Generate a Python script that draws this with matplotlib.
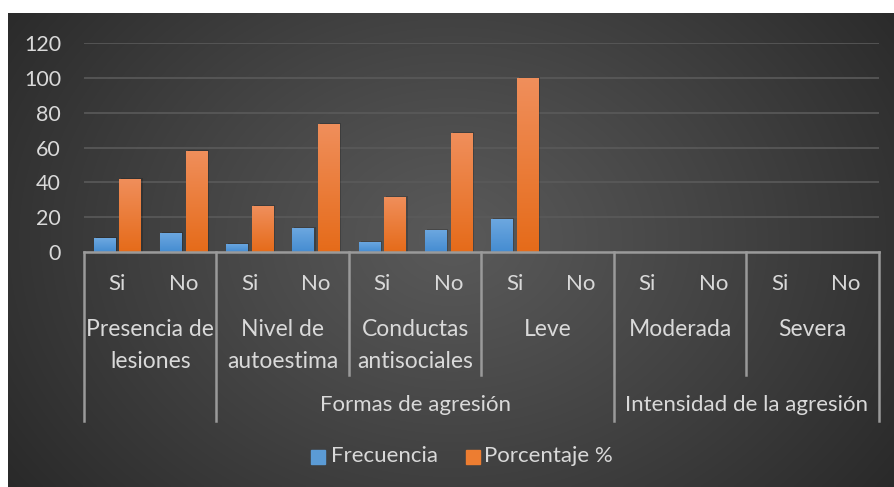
import numpy as np
import matplotlib.pyplot as plt
from matplotlib.patches import Rectangle

# data
slot_labels = ["Si", "No"] * 6
categories = ["Presencia de\nlesiones", "Nivel de\nautoestima", "Conductas\nantisociales",
              "Leve", "Moderada", "Severa"]
groups = ["", "Formas de agresión", "Intensidad de la agresión"]
group_spans = [(0, 1), (1, 4), (4, 6)]  # in categories
frecuencia = [8, 11, 5, 14, 6, 13, 19, 0, 0, 0, 0, 0]
porcentaje = [42.1, 57.9, 26.3, 73.7, 31.6, 68.4, 100, 0, 0, 0, 0, 0]

W, H = 895, 487
plt.rcParams['font.family'] = ['Lato', 'DejaVu Sans']
TXT = "#d9d9d9"
LINE = "#9a9a9a"
FS = 16

fig = plt.figure(figsize=(W / 100, H / 100), dpi=100)
fig.patch.set_facecolor("white")

# background gradient panel
bg = fig.add_axes([8 / W, 0, (W - 8) / W, (H - 13) / H])
bg.set_axis_off()
yy, xx = np.mgrid[0:200, 0:400]
cx, cy = 200, 95
d = np.sqrt(((xx - cx) / 260.0) ** 2 + ((yy - cy) / 190.0) ** 2)
d = np.clip(d, 0, 1)
img = 0.35 - (0.35 - 0.15) * d ** 1.1
bg.imshow(np.dstack([img, img, img]), aspect="auto", extent=[0, 1, 0, 1], interpolation="bilinear")
bg.set_xlim(0, 1)
bg.set_ylim(0, 1)

# plot area: x 84..879, y 42.7 (120) .. 252.3 (0)
x0, x1 = 84, 879
ytop, ybot = 42.7, 252.3
ax = fig.add_axes([x0 / W, 1 - ybot / H, (x1 - x0) / W, (ybot - ytop) / H])
ax.patch.set_alpha(0)
n = len(slot_labels)
for s in ax.spines.values():
    s.set_visible(False)
ax.set_yticks(range(0, 121, 20))
ax.tick_params(axis="y", length=0, labelsize=15.5, labelcolor=TXT, pad=16.5)
ax.set_xticks([])
ax.yaxis.grid(True, color="#5a5a5a", lw=1.2)
ax.set_axisbelow(True)

xs = np.arange(n) + 0.5
bw, off = 0.32, 0.195


def grad_bars(xpos, vals, top, bottom):
    cmap = np.linspace(0, 1, 100)[:, None]
    for x, v in zip(xpos, vals):
        if v <= 0:
            continue
        # soft shadow
        ax.add_patch(Rectangle((x - bw / 2 + 0.03, 0), bw, v + 0.6, color="black",
                               alpha=0.18, lw=0, zorder=2))
        r = Rectangle((x - bw / 2, 0), bw, v, facecolor="none", lw=0, zorder=3)
        ax.add_patch(r)
        t = np.array(top)
        b = np.array(bottom)
        im = b[None, None, :] * (1 - cmap[:, :, None]) + t[None, None, :] * cmap[:, :, None]
        imobj = ax.imshow(im, extent=[x - bw / 2, x + bw / 2, 0, v], origin="lower",
                          aspect="auto", zorder=3, interpolation="bilinear")
        imobj.set_clip_path(r)


grad_bars(xs - off, frecuencia, (0.43, 0.66, 0.88), (0.27, 0.55, 0.82))
grad_bars(xs + off, porcentaje, (0.94, 0.56, 0.36), (0.90, 0.42, 0.10))
ax.set_xlim(0, n)
ax.set_ylim(0, 120)

# multi-level category axis drawn in figure pixel coords
def fx(slot):
    return (x0 + slot * (x1 - x0) / n) / W


def fy(py):
    return 1 - py / H


fig.add_artist(plt.Line2D([fx(0), fx(n)], [fy(ybot), fy(ybot)], color=LINE, lw=1.8))
for i, lab in enumerate(slot_labels):
    fig.text(fx(i + 0.5), fy(284), lab, color=TXT, fontsize=FS, ha="center", va="center")
for j, cat in enumerate(categories):
    for k, line in enumerate(cat.split("\n")):
        fig.text(fx(2 * j + 1), fy(330 + 31 * k), line, color=TXT, fontsize=16.5,
                 ha="center", va="center")
# separators
outer = set()
for a, b in group_spans:
    outer.add(2 * a)
    outer.add(2 * b)
for k in range(0, n + 1, 2):
    bottom_y = 421 if k in outer else 375
    fig.add_artist(plt.Line2D([fx(k), fx(k)], [fy(ybot), fy(bottom_y)], color=LINE, lw=1.8))
for g, (a, b) in zip(groups, group_spans):
    if g:
        fig.text(fx(a * 2 + (b - a)), fy(405), g, color=TXT, fontsize=FS, ha="center", va="center")

# legend
fig.add_artist(Rectangle((311 / W, fy(464)), 14 / W, 14 / H, color="#5b9bd5", transform=fig.transFigure))
fig.text(331 / W, fy(456), "Frecuencia", color=TXT, fontsize=FS, ha="left", va="center")
fig.add_artist(Rectangle((466 / W, fy(464)), 14 / W, 14 / H, color="#ed7d31", transform=fig.transFigure))
fig.text(484 / W, fy(456), "Porcentaje %", color=TXT, fontsize=FS, ha="left", va="center")

fig.savefig("out.png", dpi=100, facecolor="white")
